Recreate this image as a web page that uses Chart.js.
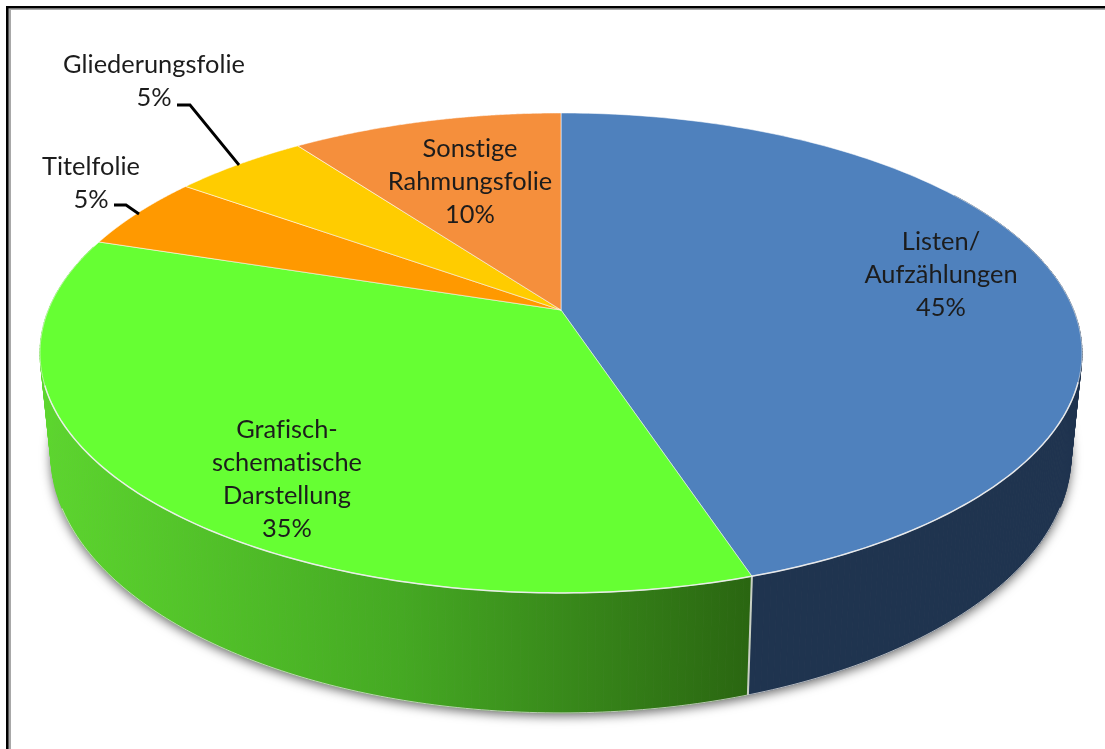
<!DOCTYPE html>
<html>
<head>
<meta charset="utf-8">
<title>Folientypen</title>
<script src="https://cdn.jsdelivr.net/npm/chart.js@4/dist/chart.umd.min.js"></script>
<style>
  html, body { margin: 0; padding: 0; background: #fff; overflow: hidden; }
  canvas { display: block; }
</style>
</head>
<body>
<canvas id="pie3d" width="1105" height="749"></canvas>
<script>
const categories = [
  ["Listen/", "Aufzählungen"],
  ["Grafisch-", "schematische", "Darstellung"],
  ["Titelfolie"],
  ["Gliederungsfolie"],
  ["Sonstige", "Rahmungsfolie"],
];
const shares = [45, 35, 5, 5, 10];
const topColors = ["#4f81bd", "#66ff33", "#ff9900", "#ffcc00", "#f58f3c"];

// where the text blocks sit: centre x, baseline of first line
const labelBoxes = [
  [941, 250],
  [287, 438],
  [91, 175],
  [154, 73],
  [470, 157],
];
const leaders = {
  2: [[114, 205], [126, 205], [139, 214]],
  3: [[177, 105], [190, 105], [239, 165]],
};

// perspective of the pie disc, fitted to the reference rim
const CX = 561, CY = 310, RX = 512.6, RY = 232.3, TILT = 0.179;
const DEPTH = 98.5, BOTTOM_SCALE = 0.979;

function rim(theta, lower) {
  const u = Math.sin(theta), v = -Math.cos(theta);
  const d = 1 - TILT * v;
  const s = lower ? BOTTOM_SCALE : 1;
  return {
    x: CX + s * RX * u / d,
    y: CY + RY * v / d + (lower ? DEPTH / d : 0),
  };
}

function sideFill(ctx, index) {
  if (index === 0) return "#1f344f";
  const g = ctx.createLinearGradient(50, 0, 750, 0);
  g.addColorStop(0, "#5cd52e");
  g.addColorStop(0.5, "#45a923");
  g.addColorStop(1, "#2a6611");
  return g;
}

function drawWall(ctx, from, to, fill) {
  const steps = 160;
  ctx.fillStyle = fill;
  ctx.strokeStyle = fill;
  ctx.lineWidth = 0.8;
  for (let i = 0; i < steps; i++) {
    const a = from + (to - from) * i / steps;
    const b = from + (to - from) * (i + 1) / steps;
    const p = [rim(a), rim(b), rim(b, true), rim(a, true)];
    ctx.beginPath();
    ctx.moveTo(p[0].x, p[0].y);
    p.slice(1).forEach((q) => ctx.lineTo(q.x, q.y));
    ctx.closePath();
    ctx.fill();
    ctx.stroke();
  }
}

function traceRim(ctx, from, to, lower, move) {
  const steps = 180;
  for (let i = 0; i <= steps; i++) {
    const p = rim(from + (to - from) * i / steps, lower);
    if (i === 0 && move) ctx.moveTo(p.x, p.y);
    else ctx.lineTo(p.x, p.y);
  }
}

const pie3dPlugin = {
  id: "pie3d",
  beforeDraw(chart) {
    const ctx = chart.ctx;
    ctx.save();
    ctx.fillStyle = "#fff";
    ctx.fillRect(0, 0, chart.width, chart.height);
    ctx.fillStyle = "#a8a8a8";
    ctx.fillRect(8, 8, 3, chart.height);
    ctx.fillRect(8, 8, chart.width, 2);
    ctx.fillStyle = "#000";
    ctx.fillRect(6, 6, 2.5, chart.height);
    ctx.fillRect(6, 6, chart.width, 2.3);
    ctx.restore();
  },
  // the library works out the slice angles, the disc is drawn in perspective here
  beforeDatasetDraw(chart, args) {
    const ctx = chart.ctx;
    const arcs = args.meta.data;
    const toTheta = (a) => a + Math.PI / 2;
    ctx.save();

    // soft shadow under the lower rim
    ctx.save();
    ctx.shadowColor = "rgba(0,0,0,0.6)";
    ctx.shadowBlur = 11;
    ctx.shadowOffsetY = 3;
    ctx.fillStyle = "#888";
    ctx.beginPath();
    traceRim(ctx, 0, Math.PI * 2, true, true);
    ctx.closePath();
    ctx.fill();
    ctx.restore();

    // visible side walls: blue and green only
    const seam = toTheta(arcs[0].endAngle);
    drawWall(ctx, 1.0, seam, sideFill(ctx, 0));
    drawWall(ctx, seam, 5.0, sideFill(ctx, 1));

    // thin light edge along the outer silhouette of the wall
    ctx.strokeStyle = "rgba(225,225,225,0.75)";
    ctx.lineWidth = 1;
    ctx.beginPath();
    traceRim(ctx, 1.95, 4.33, true, true);
    ctx.stroke();

    // seam between the two walls
    const s1 = rim(seam), s2 = rim(seam, true);
    ctx.strokeStyle = "#c9d0c4";
    ctx.lineWidth = 2;
    ctx.beginPath();
    ctx.moveTo(s1.x, s1.y);
    ctx.lineTo(s2.x, s2.y);
    ctx.stroke();

    // top surface
    arcs.forEach((arc) => {
      const a = toTheta(arc.startAngle), b = toTheta(arc.endAngle);
      ctx.beginPath();
      ctx.moveTo(CX, CY);
      traceRim(ctx, a, b, false, false);
      ctx.closePath();
      ctx.fillStyle = arc.options.backgroundColor;
      ctx.fill();
      ctx.strokeStyle = "rgba(255,255,255,0.55)";
      ctx.lineWidth = 1;
      ctx.stroke();
    });

    // white rim in front
    ctx.strokeStyle = "rgba(240,240,240,0.9)";
    ctx.lineWidth = 1.5;
    ctx.beginPath();
    traceRim(ctx, 1.87, 4.4, false, true);
    ctx.stroke();

    ctx.restore();
    return false;
  },
  afterDatasetsDraw(chart) {
    const ctx = chart.ctx;
    ctx.save();
    ctx.strokeStyle = "#000";
    ctx.lineWidth = 2.8;
    Object.values(leaders).forEach((pts) => {
      ctx.beginPath();
      pts.forEach((p, i) => (i ? ctx.lineTo(p[0], p[1]) : ctx.moveTo(p[0], p[1])));
      ctx.stroke();
    });
    ctx.fillStyle = "#1c1c1c";
    ctx.font = '25.4px Lato, "Open Sans", sans-serif';
    ctx.letterSpacing = "0.01px"; // keeps the fi / ti ligatures off
    ctx.textAlign = "center";
    ctx.textBaseline = "alphabetic";
    categories.forEach((lines, i) => {
      const [x, y] = labelBoxes[i];
      const rows = lines.concat(shares[i] + "%");
      const lead = i === 2 || i === 3 ? 32.5 : 33;
      rows.forEach((t, r) => ctx.fillText(t, x, y + r * lead));
    });
    ctx.restore();
  },
};

new Chart(document.getElementById("pie3d"), {
  type: "pie",
  data: {
    labels: categories.map((c) => c.join(" ")),
    datasets: [{ data: shares, backgroundColor: topColors }],
  },
  options: {
    responsive: false,
    animation: false,
    plugins: { legend: { display: false }, tooltip: { enabled: false } },
  },
  plugins: [pie3dPlugin],
});
</script>
</body>
</html>
